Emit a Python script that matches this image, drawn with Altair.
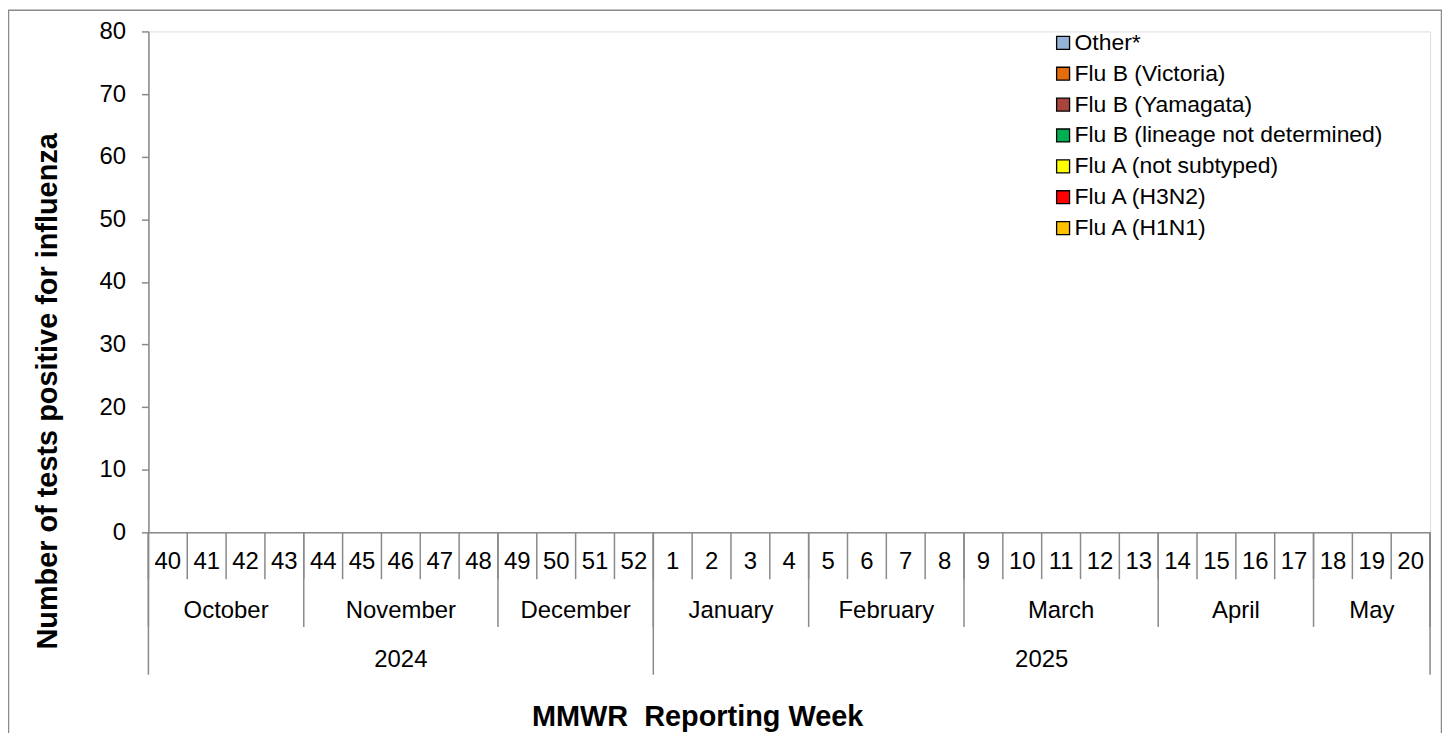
import altair as alt
import pandas as pd

# ---------------- data ----------------
series = [
    "Other*",
    "Flu B (Victoria)",
    "Flu B (Yamagata)",
    "Flu B (lineage not determined)",
    "Flu A (not subtyped)",
    "Flu A (H3N2)",
    "Flu A (H1N1)",
]
colors = ["#95B3D7", "#E46C0A", "#A9443F", "#00B050", "#FFFF00", "#FF0000", "#FFC000"]

weeks = [40, 41, 42, 43, 44, 45, 46, 47, 48, 49, 50, 51, 52,
         1, 2, 3, 4, 5, 6, 7, 8, 9, 10, 11, 12, 13, 14, 15, 16, 17, 18, 19, 20]

months = ["October", "November", "December", "January", "February", "March", "April", "May"]
month_weeks = [4, 5, 4, 4, 4, 5, 4, 3]
years = ["2024", "2025"]
year_weeks = [13, 20]

# number of positive tests per week (all zero in this season's chart)
other = [0, 0, 0, 0, 0, 0, 0, 0, 0, 0, 0, 0, 0, 0, 0, 0, 0, 0, 0, 0, 0, 0, 0, 0, 0, 0, 0, 0, 0, 0, 0, 0, 0]
flub_victoria = [0, 0, 0, 0, 0, 0, 0, 0, 0, 0, 0, 0, 0, 0, 0, 0, 0, 0, 0, 0, 0, 0, 0, 0, 0, 0, 0, 0, 0, 0, 0, 0, 0]
flub_yamagata = [0, 0, 0, 0, 0, 0, 0, 0, 0, 0, 0, 0, 0, 0, 0, 0, 0, 0, 0, 0, 0, 0, 0, 0, 0, 0, 0, 0, 0, 0, 0, 0, 0]
flub_nd = [0, 0, 0, 0, 0, 0, 0, 0, 0, 0, 0, 0, 0, 0, 0, 0, 0, 0, 0, 0, 0, 0, 0, 0, 0, 0, 0, 0, 0, 0, 0, 0, 0]
flua_nst = [0, 0, 0, 0, 0, 0, 0, 0, 0, 0, 0, 0, 0, 0, 0, 0, 0, 0, 0, 0, 0, 0, 0, 0, 0, 0, 0, 0, 0, 0, 0, 0, 0]
flua_h3n2 = [0, 0, 0, 0, 0, 0, 0, 0, 0, 0, 0, 0, 0, 0, 0, 0, 0, 0, 0, 0, 0, 0, 0, 0, 0, 0, 0, 0, 0, 0, 0, 0, 0]
flua_h1n1 = [0, 0, 0, 0, 0, 0, 0, 0, 0, 0, 0, 0, 0, 0, 0, 0, 0, 0, 0, 0, 0, 0, 0, 0, 0, 0, 0, 0, 0, 0, 0, 0, 0]
values = [other, flub_victoria, flub_yamagata, flub_nd, flua_nst, flua_h3n2, flua_h1n1]

y_ticks = [0, 10, 20, 30, 40, 50, 60, 70, 80]

# ---------------- tables ----------------
bar_rows = []
for s, vals in zip(series, values):
    for i, v in enumerate(vals):
        bar_rows.append({"pos": i + 0.5, "series": s, "count": v, "order": series.index(s)})
bars_df = pd.DataFrame(bar_rows)

week_df = pd.DataFrame({"pos": [i + 0.5 for i in range(len(weeks))], "label": [str(w) for w in weeks]})
week_bounds = pd.DataFrame({"pos": list(range(len(weeks) + 1))})

m_start, m_pos = [], []
acc = 0
for n in month_weeks:
    m_start.append(acc)
    m_pos.append(acc + n / 2)
    acc += n
month_df = pd.DataFrame({"pos": m_pos, "label": months})
month_bounds = pd.DataFrame({"pos": m_start + [acc]})

y_start, y_pos = [], []
acc = 0
for n in year_weeks:
    y_start.append(acc)
    y_pos.append(acc + n / 2)
    acc += n
year_df = pd.DataFrame({"pos": y_pos, "label": years})
year_bounds = pd.DataFrame({"pos": y_start + [acc]})

GRAY = "#8a8a8a"
FONT = "Liberation Sans"

xscale = alt.Scale(domain=[0, len(weeks)], nice=False, zero=False, padding=0)

bars = alt.Chart(bars_df).mark_bar(size=30).encode(
    x=alt.X(
        "pos:Q",
        scale=xscale,
        axis=alt.Axis(
            labels=False, ticks=False, grid=False, domainColor=GRAY, domainWidth=1.5,
            title="MMWR\u00a0 Reporting Week", titleX=551, titleY=185,
            titleAlign="center", titleBaseline="middle", titleFontSize=29,
            titleFontWeight="bold", titleFont=FONT, titleColor="black",
        ),
    ),
    y=alt.Y(
        "count:Q",
        stack="zero",
        scale=alt.Scale(domain=[0, 80], nice=False, padding=0),
        axis=alt.Axis(
            values=y_ticks, grid=False, tickSize=7, tickColor=GRAY, tickWidth=1.5,
            domainColor=GRAY, domainWidth=1.5, labelFontSize=24, labelFont=FONT,
            labelColor="black", labelPadding=16,
            title="Number of tests positive for influenza", titleX=-101, titleY=361,
            titleAngle=270, titleAlign="center", titleBaseline="middle",
            titleFontSize=29, titleFontWeight="bold", titleFont=FONT, titleColor="black",
        ),
    ),
    color=alt.Color(
        "series:N",
        scale=alt.Scale(domain=series, range=colors),
        legend=alt.Legend(
            title=None, orient="none", legendX=907, legendY=0, padding=0,
            symbolType="square", symbolSize=169, symbolStrokeColor="black",
            symbolStrokeWidth=1.3, labelFontSize=23, labelFont=FONT, labelColor="black",
            labelOffset=0, labelLimit=600, rowPadding=7,
        ),
    ),
    order=alt.Order("order:Q"),
)

week_rules = alt.Chart(week_bounds).mark_rule(color=GRAY, strokeWidth=1.5).encode(
    x=alt.X("pos:Q", scale=xscale), y=alt.value(503), y2=alt.value(550)
)
month_rules = alt.Chart(month_bounds).mark_rule(color=GRAY, strokeWidth=1.5).encode(
    x=alt.X("pos:Q", scale=xscale), y=alt.value(503), y2=alt.value(598)
)
year_rules = alt.Chart(year_bounds).mark_rule(color=GRAY, strokeWidth=1.5).encode(
    x=alt.X("pos:Q", scale=xscale), y=alt.value(503), y2=alt.value(646)
)

def labels(df, ypix):
    return alt.Chart(df).mark_text(
        font=FONT, fontSize=24, color="black", baseline="middle", align="center"
    ).encode(x=alt.X("pos:Q", scale=xscale), y=alt.value(ypix), text="label:N")

week_text = labels(week_df, 533)
month_text = labels(month_df, 582)
year_text = labels(year_df, 631)

frame = alt.Chart(pd.DataFrame({"k": [0]})).mark_rect(
    fill=None, stroke=GRAY, strokeWidth=1.5
).encode(x=alt.value(-140.5), x2=alt.value(1298.5), y=alt.value(-21.2), y2=alt.value(780))

top_title = alt.Chart(pd.DataFrame({"label": ["Laboratories, 2024-2025 Season"]})).mark_text(
    font=FONT, fontSize=20, color="black", align="left", baseline="bottom"
).encode(x=alt.value(-141), y=alt.value(-23), text="label:N")

chart = alt.layer(
    frame, top_title, bars, week_rules, month_rules, year_rules, week_text, month_text, year_text
).properties(
    width=1287, height=503,
    padding={"left": 141, "top": 22, "right": 12, "bottom": 200},
    autosize=alt.AutoSizeParams(type="none"),
).configure_view(stroke=None).configure(font=FONT)

chart.save("out.html", embed_options={"renderer": "svg", "actions": False})
